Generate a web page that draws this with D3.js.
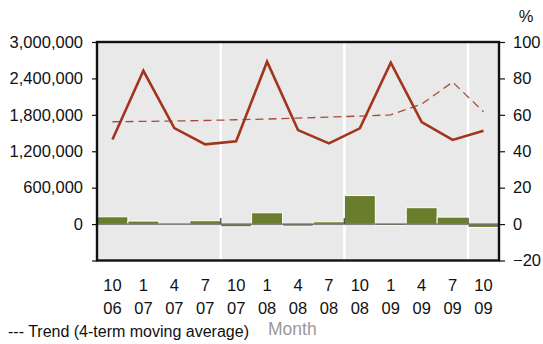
<!DOCTYPE html>
<html>
<head>
<meta charset="utf-8">
<script src="https://cdn.jsdelivr.net/npm/d3@7"></script>
<style>
  html, body { margin: 0; padding: 0; background: #fff; }
  svg { display: block; font-family: "Liberation Sans", Arial, sans-serif; }
</style>
</head>
<body>
<svg id="chart" width="543" height="344"></svg>
<script>
// ---- Data ----
const months = ["10", "1", "4", "7", "10", "1", "4", "7", "10", "1", "4", "7", "10"];
const years  = ["06", "07", "07", "07", "07", "08", "08", "08", "08", "09", "09", "09", "09"];
// bars (left axis)
const barValues = [120000, 50000, 5000, 55000, -45000, 186000, -35000, 38000, 470000, -25000, 270000, 115000, -55000];
// solid line (right axis, %)
const rateValues = [46.5, 84.2, 52.7, 43.8, 45.5, 89.2, 51.6, 44.3, 52.6, 88.6, 56.0, 46.2, 51.3];
// dashed trend line (right axis, %)
const trendValues = [56.2, 56.4, 56.6, 56.9, 57.3, 57.7, 58.2, 58.8, 59.3, 60.0, 65.9, 78.0, 61.7];
const leftTicks = [3000000, 2400000, 1800000, 1200000, 600000, 0, -600000];
const rightTicks = [100, 80, 60, 40, 20, 0, -20];
const yearStarts = [4, 8, 12]; // boundaries drawn as white separators

// ---- Layout ----
const svg = d3.select("#chart");
const X0 = 97, X1 = 499, Y0 = 42, Y1 = 260.5;
const FS = 16.5;

const x = d3.scaleBand().domain(d3.range(months.length)).range([X0, X1]).padding(0);
const yL = d3.scaleLinear().domain([-600000, 3000000]).range([Y1, Y0]);
const yR = d3.scaleLinear().domain([-20, 100]).range([Y1, Y0]);

// background
svg.append("rect").attr("x", X0).attr("y", Y0).attr("width", X1 - X0).attr("height", Y1 - Y0)
  .attr("fill", "#e9e9e9");

// white separators
svg.selectAll(".sep").data(yearStarts).enter().append("line")
  .attr("x1", d => x(d)).attr("x2", d => x(d))
  .attr("y1", Y0).attr("y2", Y1)
  .attr("stroke", "#fff").attr("stroke-width", 2.5);

// bars
svg.selectAll(".bar").data(barValues).enter().append("rect")
  .attr("x", (d, i) => x(i))
  .attr("width", x.bandwidth())
  .attr("y", d => Math.min(yL(d), yL(0)))
  .attr("height", d => Math.abs(yL(d) - yL(0)))
  .attr("fill", "#6a7d2d")
  .attr("stroke", "#fff").attr("stroke-width", 1);

// zero line
svg.append("line").attr("x1", X0).attr("x2", X1).attr("y1", yL(0)).attr("y2", yL(0))
  .attr("stroke", "#333").attr("stroke-width", 1);
svg.selectAll(".ztick").data(yearStarts.filter(d => d < months.length)).enter().append("line")
  .attr("x1", d => x(d)).attr("x2", d => x(d))
  .attr("y1", yL(0) - 6).attr("y2", yL(0))
  .attr("stroke", "#555").attr("stroke-width", 1.5);

// lines
const cx = i => x(i) + x.bandwidth() / 2;
const lineGen = d3.line().x((d, i) => cx(i)).y(d => yR(d));
svg.append("path").datum(trendValues).attr("d", lineGen)
  .attr("fill", "none").attr("stroke", "#a84a36").attr("stroke-width", 1.3)
  .attr("stroke-dasharray", "8,5");
svg.append("path").datum(rateValues).attr("d", lineGen)
  .attr("fill", "none").attr("stroke", "#a2351c").attr("stroke-width", 2.6)
  .attr("stroke-linejoin", "miter");

// frame
svg.append("rect").attr("x", X0).attr("y", Y0).attr("width", X1 - X0).attr("height", Y1 - Y0)
  .attr("fill", "none").attr("stroke", "#111").attr("stroke-width", 2.4);

// left axis
const leftAxis = d3.axisLeft(yL).tickValues(leftTicks).tickSize(5).tickPadding(9)
  .tickFormat(d => d < 0 ? "" : d3.format(",")(d));
const gL = svg.append("g").attr("transform", `translate(${X0},0)`).call(leftAxis);
gL.select(".domain").remove();
gL.selectAll(".tick line").attr("stroke", "#111").attr("stroke-width", 1.2);
gL.selectAll(".tick text").attr("font-size", FS).attr("fill", "#111")
  .attr("font-family", "Liberation Sans, Arial, sans-serif");

// right axis
const rightAxis = d3.axisRight(yR).tickValues(rightTicks).tickSize(6).tickPadding(8)
  .tickFormat(d3.format("d"));
const gR = svg.append("g").attr("transform", `translate(${X1},0)`).call(rightAxis);
gR.select(".domain").remove();
gR.selectAll(".tick line").attr("stroke", "#111").attr("stroke-width", 1.2);
gR.selectAll(".tick text").attr("font-size", FS).attr("fill", "#111")
  .attr("font-family", "Liberation Sans, Arial, sans-serif");

svg.append("text").attr("x", 526).attr("y", 22).attr("text-anchor", "middle")
  .attr("font-size", FS).attr("fill", "#111").text("%");

// x labels
const xl = svg.append("g");
xl.selectAll(".m").data(months).enter().append("text")
  .attr("x", (d, i) => cx(i)).attr("y", 291).attr("text-anchor", "middle")
  .attr("font-size", FS).attr("fill", "#111").text(d => d);
xl.selectAll(".yr").data(years).enter().append("text")
  .attr("x", (d, i) => cx(i)).attr("y", 314).attr("text-anchor", "middle")
  .attr("font-size", FS).attr("fill", "#111").text(d => d);

// legend / title
svg.append("text").attr("x", 8).attr("y", 337).attr("font-size", 16).attr("fill", "#111")
  .text("--- Trend (4-term moving average)");
svg.append("text").attr("x", 268).attr("y", 335).attr("font-size", 17.5).attr("fill", "#999")
  .text("Month");
</script>
</body>
</html>
